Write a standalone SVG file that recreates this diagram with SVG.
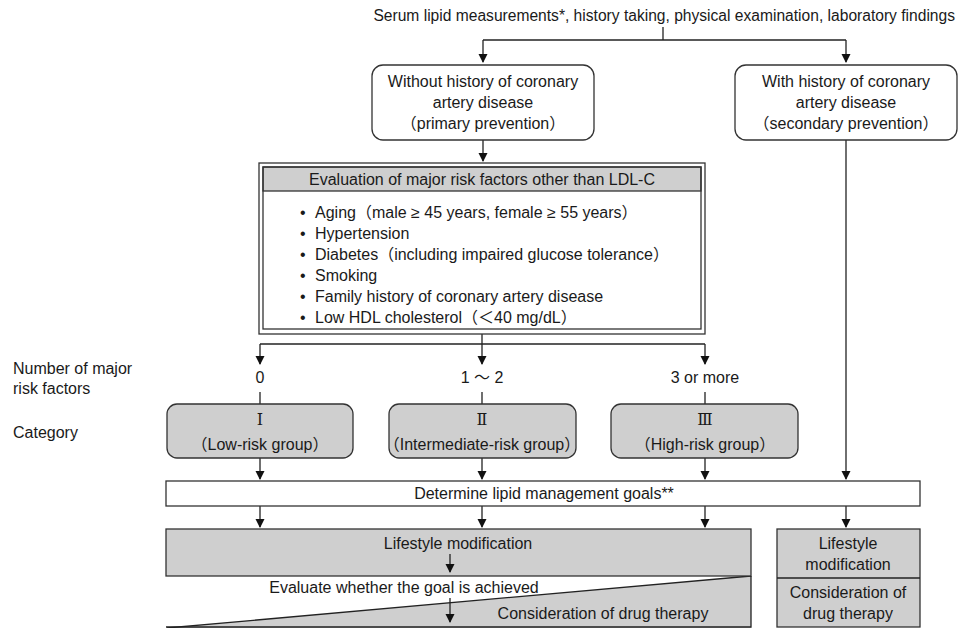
<svg xmlns="http://www.w3.org/2000/svg" width="960" height="628" viewBox="0 0 960 628">
<style>
text{font-family:"Liberation Sans","Noto Sans CJK JP",Arial,sans-serif;font-size:16px;fill:#1a1a1a}
.c{text-anchor:middle}
.rn{font-family:"DejaVu Serif","Liberation Serif","Noto Sans CJK JP",serif;font-size:16px}
.ln{stroke:#222;stroke-width:1.3;fill:none}
.box{stroke:#333;stroke-width:1.3;fill:#fff}
.gbox{stroke:#333;stroke-width:1.3;fill:#cfcfcf}
</style>
<defs>
<marker id="ah" markerUnits="userSpaceOnUse" markerWidth="10" markerHeight="10" refX="8" refY="4.5" orient="auto">
<path d="M0,0 L9,4.5 L0,9 Z" fill="#111"/>
</marker>
</defs>
<rect width="960" height="628" fill="#fff"/>

<g id="top-text"><text x="955" y="21" text-anchor="end" style="font-size:15.6px">Serum lipid measurements*, history taking, physical examination, laboratory findings</text></g>

<g id="connectors">
<path class="ln" d="M663,27 V40"/>
<path class="ln" d="M483,40 H846"/>
<path class="ln" d="M483,40 V62" marker-end="url(#ah)"/>
<path class="ln" d="M846,40 V62" marker-end="url(#ah)"/>
<path class="ln" d="M483,140 V161" marker-end="url(#ah)"/>
<path class="ln" d="M482,334 V344"/>
<path class="ln" d="M260,344 H705"/>
<path class="ln" d="M260,344 V364" marker-end="url(#ah)"/>
<path class="ln" d="M482,344 V364" marker-end="url(#ah)"/>
<path class="ln" d="M705,344 V364" marker-end="url(#ah)"/>
<path class="ln" d="M260,392 V404"/>
<path class="ln" d="M482,392 V404"/>
<path class="ln" d="M705,392 V404"/>
<path class="ln" d="M260,458 V479" marker-end="url(#ah)"/>
<path class="ln" d="M482,458 V479" marker-end="url(#ah)"/>
<path class="ln" d="M705,458 V479" marker-end="url(#ah)"/>
<path class="ln" d="M846,140 V479" marker-end="url(#ah)"/>
<path class="ln" d="M260,506 V527" marker-end="url(#ah)"/>
<path class="ln" d="M482,506 V527" marker-end="url(#ah)"/>
<path class="ln" d="M705,506 V527" marker-end="url(#ah)"/>
<path class="ln" d="M846,506 V527" marker-end="url(#ah)"/>
</g>

<g id="primary">
<rect class="box" x="372" y="65" width="222" height="75" rx="11"/>
<text class="c" x="483" y="87">Without history of coronary</text>
<text class="c" x="483" y="108">artery disease</text>
<text class="c" x="483" y="129">（primary prevention）</text>
</g>

<g id="secondary">
<rect class="box" x="735" y="65" width="222" height="75" rx="11"/>
<text class="c" x="846" y="87">With history of coronary</text>
<text class="c" x="846" y="108">artery disease</text>
<text class="c" x="846" y="129">（secondary prevention）</text>
</g>

<g id="risk-factors">
<rect class="box" x="259" y="163" width="446" height="171"/>
<rect class="gbox" x="263" y="167" width="438" height="24"/>
<rect x="263" y="167" width="438" height="162" fill="none" stroke="#333" stroke-width="1.3"/>
<text class="c" x="482" y="185">Evaluation of major risk factors other than LDL-C</text>
<text x="300" y="218">•<tspan x="315">Aging（male ≥ 45 years, female ≥ 55 years）</tspan></text>
<text x="300" y="239">•<tspan x="315">Hypertension</tspan></text>
<text x="300" y="260">•<tspan x="315">Diabetes（including impaired glucose tolerance）</tspan></text>
<text x="300" y="281">•<tspan x="315">Smoking</tspan></text>
<text x="300" y="302">•<tspan x="315">Family history of coronary artery disease</tspan></text>
<text x="300" y="323">•<tspan x="315">Low HDL cholesterol（＜40 mg/dL）</tspan></text>
</g>

<g id="row-labels">
<text x="13" y="374">Number of major</text>
<text x="13" y="394">risk factors</text>
<text x="13" y="438">Category</text>
</g>

<g id="counts">
<text class="c" x="260" y="383">0</text>
<text class="c" x="482" y="383">1 ～ 2</text>
<text class="c" x="705" y="383">3 or more</text>
</g>

<g id="cat-1">
<rect class="gbox" x="167" y="404" width="186" height="54" rx="10"/>
<text class="c rn" x="260" y="425">Ⅰ</text>
<text class="c" x="260" y="450">（Low-risk group）</text>
</g>
<g id="cat-2">
<rect class="gbox" x="389" y="404" width="187" height="54" rx="10"/>
<text class="c rn" x="482" y="425">Ⅱ</text>
<text class="c" x="482" y="450">（Intermediate-risk group）</text>
</g>
<g id="cat-3">
<rect class="gbox" x="611" y="404" width="187" height="54" rx="10"/>
<text class="c rn" x="705" y="425">Ⅲ</text>
<text class="c" x="705" y="450">（High-risk group）</text>
</g>

<g id="goals">
<rect class="box" x="166" y="481" width="754" height="25"/>
<text class="c" x="544" y="499">Determine lipid management goals**</text>
</g>

<g id="primary-treatment">
<polygon points="167,628 751,576 751,628" fill="#cfcfcf"/>
<path class="ln" d="M167,628 L751,576"/>
<rect class="gbox" x="166" y="529" width="585" height="47"/>
<path class="ln" d="M751,576 V627 H166"/>
<text class="c" x="458" y="549">Lifestyle modification</text>
<path class="ln" d="M450,554 V572" marker-end="url(#ah)"/>
<text class="c" x="404" y="593">Evaluate whether the goal is achieved</text>
<path class="ln" d="M450,598 V622" marker-end="url(#ah)"/>
<text class="c" x="603" y="619">Consideration of drug therapy</text>
</g>

<g id="secondary-treatment">
<rect class="gbox" x="777" y="529" width="143" height="98"/>
<path class="ln" d="M777,578 H920"/>
<text class="c" x="848" y="549">Lifestyle</text>
<text class="c" x="848" y="570">modification</text>
<text class="c" x="848" y="598">Consideration of</text>
<text class="c" x="848" y="619">drug therapy</text>
</g>
</svg>
